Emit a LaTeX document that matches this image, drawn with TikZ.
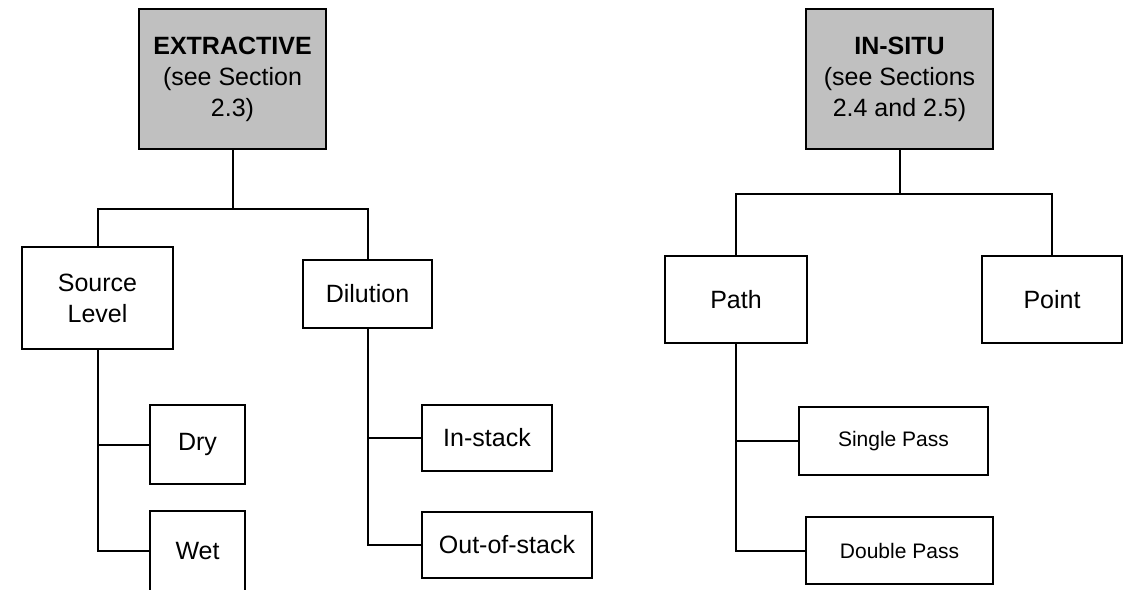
\documentclass[tikz,border=0pt]{standalone}
\usepackage{fontspec}
\setmainfont{Liberation Sans}
\definecolor{boxgray}{HTML}{C0C0C0}
\tikzset{
	box/.style={draw, line width=2pt, inner sep=0pt, align=center, font=\fontsize{25}{31}\selectfont},
	headbox/.style={box, fill=boxgray},
	smallbox/.style={box, font=\fontsize{21}{25}\selectfont},
	link/.style={line width=2pt},
}

\begin{document}
\begin{tikzpicture}[x=1pt, y=-1pt]
		\useasboundingbox (0,0) rectangle (1126,589);
		\node [headbox, minimum width=187pt, minimum height=140pt] at (232.5,79) (extr) {\textbf{EXTRACTIVE}\\(see Section\\2.3)};
		\node [box, minimum width=151pt, minimum height=102pt] at (97.5,298) (source) {Source\\Level};
		\node [box, minimum width=129pt, minimum height=68pt] at (367.5,294) (dilution) {Dilution};
		\node [box, minimum width=95pt, minimum height=79pt] at (197.5,444.5) (dry) {Dry};
		\node [box, minimum width=95pt, minimum height=80pt] at (197.5,551) (wet) {Wet};
		\node [box, minimum width=130pt, minimum height=66pt] at (487,438) (instack) {In-stack};
		\node [box, minimum width=170pt, minimum height=66pt] at (507,545) (outstack) {Out-of-stack};
		\node [headbox, minimum width=187pt, minimum height=140pt] at (899.5,79) (insitu) {\textbf{IN-SITU}\\(see Sections\\2.4 and 2.5)};
		\node [box, minimum width=142pt, minimum height=87pt] at (736,299.5) (path) {Path};
		\node [box, minimum width=140pt, minimum height=87pt] at (1052,299.5) (point) {Point};
		\node [smallbox, minimum width=189pt, minimum height=68pt] at (893.5,441) (single) {Single Pass};
		\node [smallbox, minimum width=187pt, minimum height=67pt] at (899.5,550.5) (double) {Double Pass};
		\coordinate (ebus) at (232.5,209);
		\coordinate (ibus) at (899.5,194);
		\draw [link] (extr.south) -- (ebus);
		\draw [link] (source.north) |- (ebus) -| (dilution.north);
		\draw [link] (source.south) |- (dry.west);
		\draw [link] (source.south) |- (wet.west);
		\draw [link] (dilution.south) |- (instack.west);
		\draw [link] (dilution.south) |- (outstack.west);
		\draw [link] (insitu.south) -- (ibus);
		\draw [link] (path.north) |- (ibus) -| (point.north);
		\draw [link] (path.south) |- (single.west);
		\draw [link] (path.south) |- (double.west);
\end{tikzpicture}
\end{document}
